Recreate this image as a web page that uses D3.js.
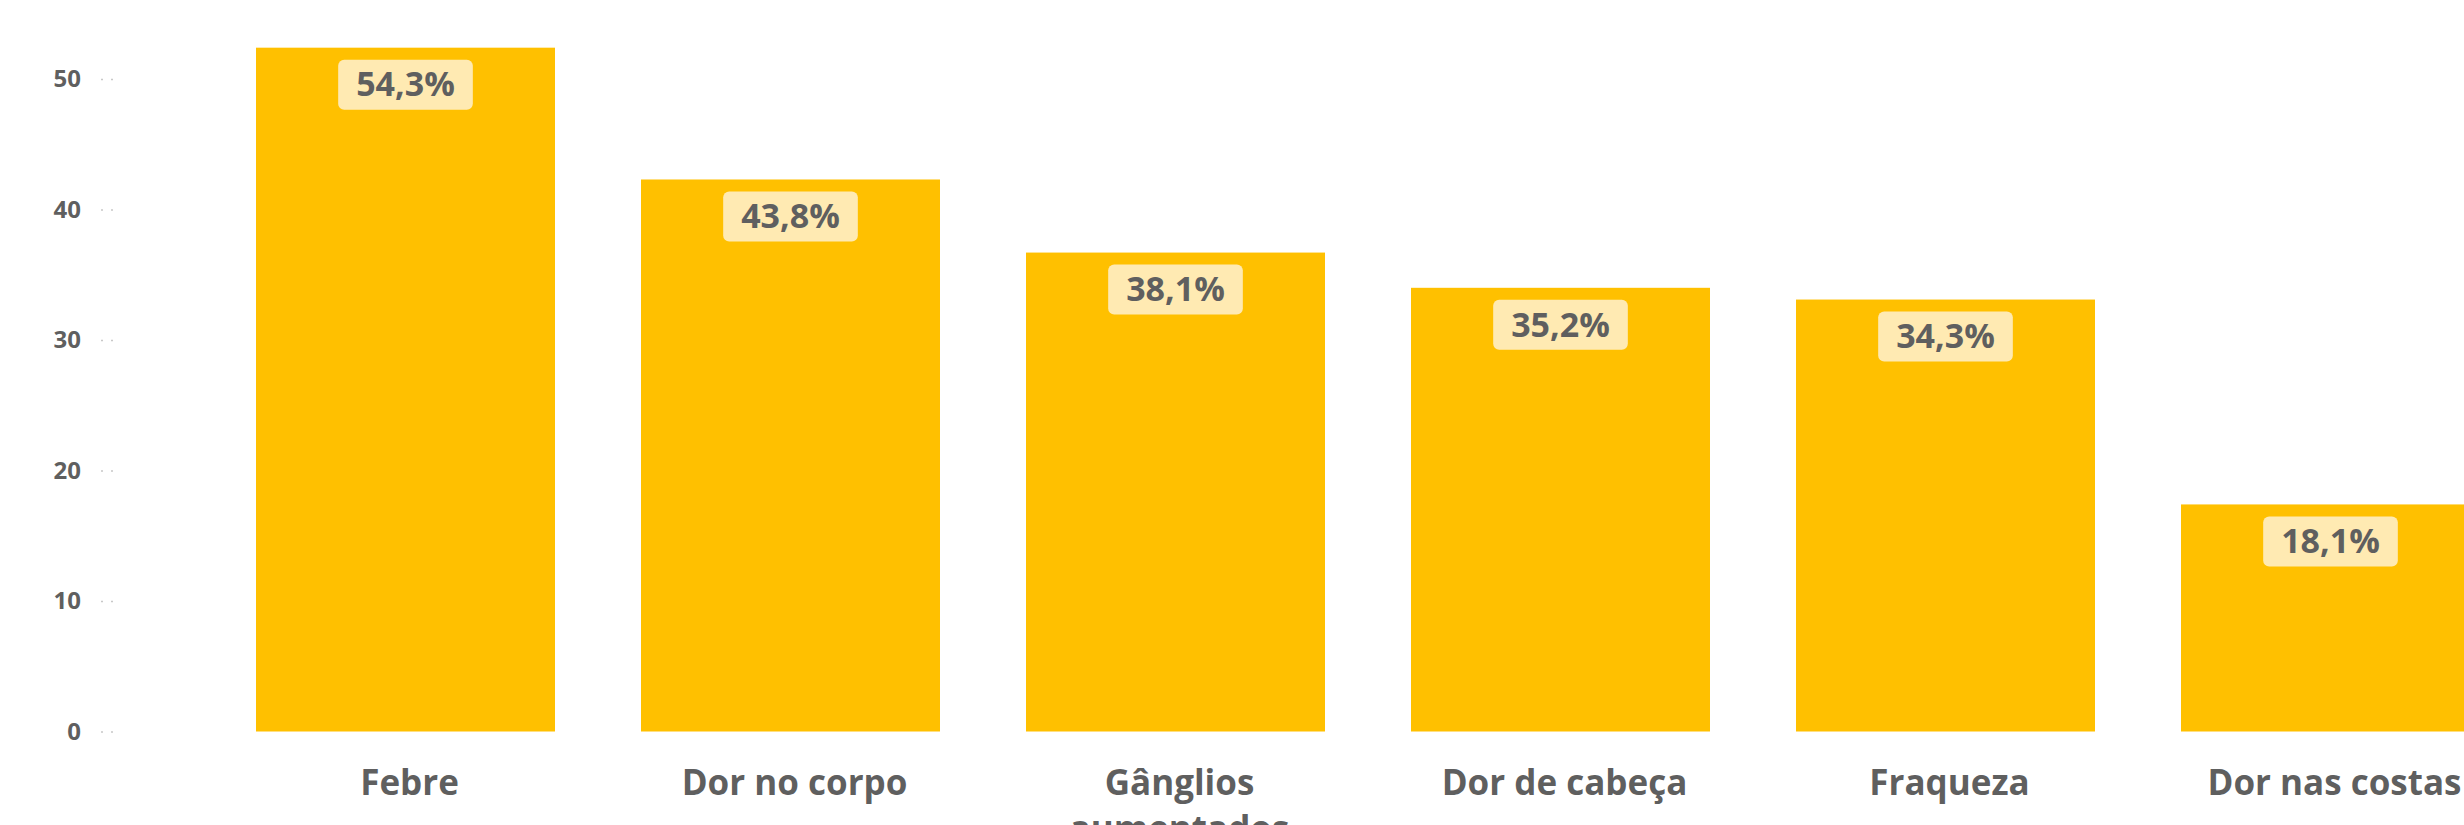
<!DOCTYPE html>
<html>
<head>
<meta charset="utf-8">
<script src="https://cdn.jsdelivr.net/npm/d3@7"></script>
<style>
  html, body { margin: 0; padding: 0; background: #ffffff; overflow: hidden; }
  svg { display: block; }
  text { font-family: "Open Sans", "Noto Sans", sans-serif; font-weight: 700; fill: #5f5f5f; }
</style>
</head>
<body>
<svg id="chart" width="2464" height="825"></svg>
<script>
// ---- data ----
const categories = ["Febre", "Dor no corpo", "Gânglios aumentados", "Dor de cabeça", "Fraqueza", "Dor nas costas"];
const barValues = [52.4, 42.3, 36.7, 34.0, 33.1, 17.4];
const labelTexts = ["54,3%", "43,8%", "38,1%", "35,2%", "34,3%", "18,1%"];
const yTicks = [0, 10, 20, 30, 40, 50];

// ---- layout ----
const svg = d3.select("#chart");

const x = d3.scaleBand()
  .domain(categories)
  .range([213, 213 + 6 * 385])
  .paddingInner(0.2234)
  .paddingOuter(0.1117);

const y = d3.scaleLinear()
  .domain([0, 50])
  .range([731.5, 79]);

// y axis
const yAxis = d3.axisLeft(y)
  .tickValues(yTicks)
  .tickSize(0)
  .tickPadding(0)
  .tickFormat(d3.format("d"));

const gy = svg.append("g")
  .attr("transform", "translate(81,0)")
  .call(yAxis);
gy.select(".domain").remove();
gy.selectAll(".tick text")
  .attr("x", 0)
  .style("font-size", "24px")
  .style("fill", "#5f5f5f")
  .style("font-family", "'Open Sans', sans-serif")
  .style("font-weight", 700);
gy.selectAll(".tick").append("line")
  .attr("x1", 20).attr("x2", 34)
  .attr("stroke", "#c8c8c8")
  .attr("stroke-width", 1.5)
  .attr("stroke-dasharray", "2,8");

// bars
svg.append("g").selectAll("rect")
  .data(categories)
  .join("rect")
  .attr("x", d => x(d))
  .attr("y", (d, i) => y(barValues[i]))
  .attr("width", x.bandwidth())
  .attr("height", (d, i) => y(0) - y(barValues[i]))
  .attr("fill", "#FFC000");

// data labels
const lab = svg.append("g").selectAll("g")
  .data(categories)
  .join("g")
  .attr("transform", (d, i) => `translate(${x(d) + x.bandwidth() / 2},${y(barValues[i]) + 12})`);

lab.append("rect").attr("class", "box")
  .attr("fill", "#FFEAB2")
  .attr("rx", 6).attr("ry", 6);

lab.append("text")
  .attr("text-anchor", "middle")
  .attr("y", 24.5)
  .attr("dy", "0.36em")
  .style("font-size", "34px")
  .text((d, i) => labelTexts[i]);

lab.each(function() {
  const g = d3.select(this);
  const bb = g.select("text").node().getBBox();
  const padX = 18;
  g.select("rect.box")
    .attr("x", -bb.width / 2 - padX)
    .attr("y", 0)
    .attr("width", bb.width + 2 * padX)
    .attr("height", 50);
});

// x axis labels with wrapping
const xAxis = d3.axisBottom(x).tickSize(0).tickPadding(0);
const gx = svg.append("g")
  .attr("transform", `translate(4,${y(0)})`)
  .call(xAxis);
gx.select(".domain").remove();
gx.selectAll(".tick text")
  .style("font-size", "35px")
  .style("fill", "#5f5f5f")
  .style("font-family", "'Open Sans', sans-serif")
  .style("font-weight", 700)
  .attr("y", 63.5)
  .attr("dy", 0)
  .call(wrap, x.bandwidth());

function wrap(texts, width) {
  texts.each(function() {
    const t = d3.select(this);
    const words = t.text().split(/\s+/);
    const yy = t.attr("y");
    t.text(null);
    let line = [];
    let lineNo = 0;
    let tspan = t.append("tspan").attr("x", 0).attr("y", yy).attr("dy", 0);
    words.forEach(w => {
      line.push(w);
      tspan.text(line.join(" "));
      if (tspan.node().getComputedTextLength() > width && line.length > 1) {
        line.pop();
        tspan.text(line.join(" "));
        line = [w];
        lineNo++;
        tspan = t.append("tspan").attr("x", 0).attr("y", yy).attr("dy", (lineNo * 1.3) + "em").text(w);
      }
    });
  });
}
</script>
</body>
</html>
